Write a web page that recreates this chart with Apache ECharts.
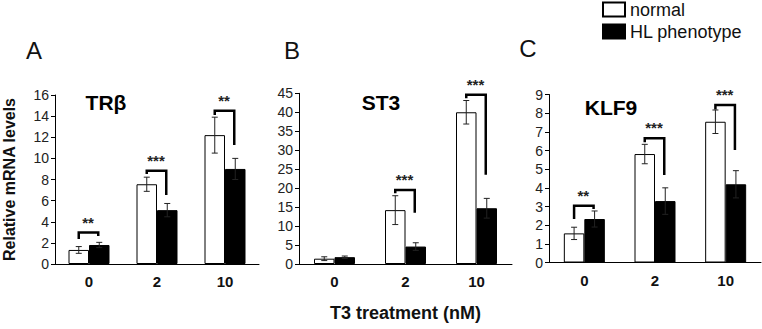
<!DOCTYPE html>
<html>
<head>
<meta charset="utf-8">
<script src="https://cdn.jsdelivr.net/npm/echarts@6/dist/echarts.min.js"></script>
<style>
html,body{margin:0;padding:0;background:#fff;}
#c{width:762px;height:329px;}
</style>
</head>
<body>
<div id="c"></div>
<script>
// ---- data ----
const categories = ['0', '2', '10'];
const seriesNames = ['normal', 'HL phenotype'];
const panelTitles = ['TRβ', 'ST3', 'KLF9'];
const panelLetters = ['A', 'B', 'C'];

const trbNormal = [1.33, 7.55, 12.2];
const trbNormalErr = [0.32, 0.67, 1.7];
const trbHL = [1.8, 5.1, 9.0];
const trbHLErr = [0.25, 0.63, 1.0];

const st3Normal = [1.4, 14.2, 40.0];
const st3NormalErr = [0.5, 3.8, 3.1];
const st3HL = [1.8, 4.6, 14.7];
const st3HLErr = [0.3, 1.0, 2.6];

const klf9Normal = [1.56, 5.81, 7.54];
const klf9NormalErr = [0.33, 0.52, 0.63];
const klf9HL = [2.33, 3.29, 4.19];
const klf9HLErr = [0.43, 0.71, 0.73];

// significance brackets: category index, top, left end, right end, label
const trbBracketCat = [0, 1, 2];
const trbBracketTop = [2.98, 8.84, 14.52];
const trbBracketLeft = [2.37, 8.52, 14.1];
const trbBracketRight = [2.65, 6.53, 11.27];
const trbStars = ['**', '***', '**'];

const st3BracketCat = [1, 2];
const st3BracketTop = [19.5, 44.6];
const st3BracketLeft = [18.65, 43.7];
const st3BracketRight = [13.5, 23.5];
const st3Stars = ['***', '***'];

const klf9BracketCat = [0, 1, 2];
const klf9BracketTop = [3.04, 6.65, 8.44];
const klf9BracketLeft = [2.33, 6.44, 8.2];
const klf9BracketRight = [2.87, 4.69, 6.03];
const klf9Stars = ['**', '***', '***'];

const yMax = [16, 45, 9];
const yInterval = [2, 5, 1];
const xTitle = 'T3 treatment (nM)';
const yTitle = 'Relative mRNA levels';

// ---- layout ----
const FONT = 'Liberation Sans, Arial, Helvetica, sans-serif';
const BAR_W = 20.5;
const grids = [
  {left: 47, top: 95, width: 212, height: 169},
  {left: 299, top: 93.3, width: 213, height: 170.7},
  {left: 549, top: 94.5, width: 212, height: 168}
];

const panels = [
  {n: trbNormal, ne: trbNormalErr, h: trbHL, he: trbHLErr,
   bc: trbBracketCat, bt: trbBracketTop, bl: trbBracketLeft, br: trbBracketRight, bs: trbStars},
  {n: st3Normal, ne: st3NormalErr, h: st3HL, he: st3HLErr,
   bc: st3BracketCat, bt: st3BracketTop, bl: st3BracketLeft, br: st3BracketRight, bs: st3Stars},
  {n: klf9Normal, ne: klf9NormalErr, h: klf9HL, he: klf9HLErr,
   bc: klf9BracketCat, bt: klf9BracketTop, bl: klf9BracketLeft, br: klf9BracketRight, bs: klf9Stars}
];

function errRender(offset) {
  return function (params, api) {
    const c = api.value(0), v = api.value(1), e = api.value(2);
    const pTop = api.coord([c, v + e]);
    const pBot = api.coord([c, v - e]);
    const x = pTop[0] + offset;
    const cap = 3;
    const st = {stroke: '#222', lineWidth: 1};
    return {type: 'group', children: [
      {type: 'line', shape: {x1: x, y1: pTop[1], x2: x, y2: pBot[1]}, style: st},
      {type: 'line', shape: {x1: x - cap, y1: pTop[1], x2: x + cap, y2: pTop[1]}, style: st},
      {type: 'line', shape: {x1: x - cap, y1: pBot[1], x2: x + cap, y2: pBot[1]}, style: st}
    ]};
  };
}

function bracketRender(params, api) {
  const c = api.value(0);
  const pT = api.coord([c, api.value(1)]);
  const pL = api.coord([c, api.value(2)]);
  const pR = api.coord([c, api.value(3)]);
  const xl = pT[0] - BAR_W / 2;
  const xr = pT[0] + BAR_W / 2 - 1;
  return {type: 'group', children: [
    {type: 'polyline', shape: {points: [[xl, pL[1]], [xl, pT[1]], [xr, pT[1]], [xr, pR[1]]]},
     style: {stroke: '#000', lineWidth: 2.5, fill: null}},
    {type: 'text', x: pT[0] - 1, y: pT[1] - 3,
     style: {text: api.value(4), fill: '#222', font: 'bold 15px ' + FONT, align: 'center', verticalAlign: 'bottom'}}
  ]};
}

const xAxes = [], yAxes = [], series = [];
panels.forEach((p, i) => {
  xAxes.push({
    type: 'category', gridIndex: i, data: categories,
    axisLine: {lineStyle: {color: '#000', width: 1}},
    axisTick: {show: false},
    axisLabel: {color: '#111', fontWeight: 'bold', fontSize: 15, fontFamily: FONT, margin: 10},
    name: i === 1 ? xTitle : '', nameLocation: 'middle', nameGap: 40,
    nameTextStyle: {color: '#111', fontWeight: 'bold', fontSize: 18, fontFamily: FONT}
  });
  yAxes.push({
    type: 'value', gridIndex: i, min: 0, max: yMax[i], interval: yInterval[i],
    axisLine: {show: true, lineStyle: {color: '#000', width: 1}},
    axisTick: {show: true, length: 4, lineStyle: {color: '#000'}},
    splitLine: {show: false},
    axisLabel: {color: '#222', fontSize: 14, fontFamily: FONT, margin: 6},
    name: i === 0 ? yTitle : '', nameLocation: 'middle', nameRotate: 90, nameGap: 38,
    nameTextStyle: {color: '#111', fontWeight: 'bold', fontSize: 16, fontFamily: FONT}
  });
  series.push({
    name: seriesNames[0], type: 'bar', xAxisIndex: i, yAxisIndex: i, data: p.n,
    barWidth: BAR_W, barGap: '0%',
    itemStyle: {color: '#fff', borderColor: '#000', borderWidth: 1}
  });
  series.push({
    name: seriesNames[1], type: 'bar', xAxisIndex: i, yAxisIndex: i, data: p.h,
    barWidth: BAR_W, barGap: '0%',
    itemStyle: {color: '#000', borderColor: '#000', borderWidth: 1}
  });
  series.push({
    type: 'custom', xAxisIndex: i, yAxisIndex: i, z: 5,
    data: p.n.map((v, k) => [k, v, p.ne[k]]), renderItem: errRender(-BAR_W / 2)
  });
  series.push({
    type: 'custom', xAxisIndex: i, yAxisIndex: i, z: 5,
    data: p.h.map((v, k) => [k, v, p.he[k]]), renderItem: errRender(BAR_W / 2)
  });
  series.push({
    type: 'custom', xAxisIndex: i, yAxisIndex: i, z: 6, clip: false,
    data: p.bc.map((c, k) => [c, p.bt[k], p.bl[k], p.br[k], p.bs[k]]),
    renderItem: bracketRender
  });
});

const titleTexts = [
  {text: panelTitles[0], x: 106, y: 102},
  {text: panelTitles[1], x: 381, y: 102},
  {text: panelTitles[2], x: 611, y: 107}
];
const letterTexts = [
  {text: panelLetters[0], x: 34, y: 50},
  {text: panelLetters[1], x: 292, y: 50},
  {text: panelLetters[2], x: 528, y: 48}
];

const graphic = [];
titleTexts.forEach(t => graphic.push({type: 'text', x: t.x, y: t.y,
  style: {text: t.text, fill: '#000', font: 'bold 21px ' + FONT, align: 'center', verticalAlign: 'middle'}}));
letterTexts.forEach(t => graphic.push({type: 'text', x: t.x, y: t.y,
  style: {text: t.text, fill: '#111', font: '24px ' + FONT, align: 'center', verticalAlign: 'middle'}}));

const chart = echarts.init(document.getElementById('c'), null, {renderer: 'svg'});
chart.setOption({
  animation: false,
  backgroundColor: '#fff',
  grid: grids,
  xAxis: xAxes,
  yAxis: yAxes,
  legend: {
    data: seriesNames, orient: 'vertical', left: 602, top: 0, padding: 0,
    icon: 'rect', itemWidth: 22, itemHeight: 14, itemGap: 3,
    textStyle: {color: '#111', fontSize: 18, fontFamily: FONT, lineHeight: 19},
    selectedMode: false
  },
  graphic: graphic,
  series: series
});
</script>
</body>
</html>
